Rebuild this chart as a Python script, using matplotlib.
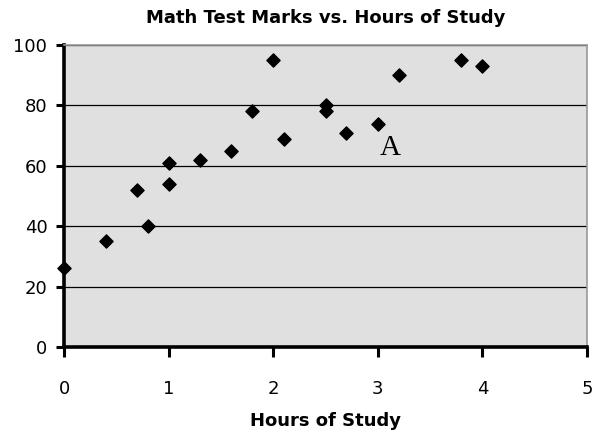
import matplotlib
matplotlib.use("Agg")
import matplotlib.pyplot as plt

hours = [0, 0.4, 0.7, 0.8, 1.0, 1.0, 1.3, 1.6, 1.8, 2.0, 2.1, 2.5, 2.5, 2.7, 3.0, 3.2, 3.8, 4.0]
marks = [26, 35, 52, 40, 54, 61, 62, 65, 78, 95, 69, 80, 78, 71, 74, 90, 95, 93]
x_ticks = [0, 1, 2, 3, 4, 5]
y_ticks = [0, 20, 40, 60, 80, 100]
title = "Math Test Marks vs. Hours of Study"
xlabel = "Hours of Study"
annot = "A"

fig = plt.figure(figsize=(5.95, 4.43), dpi=100)
ax = fig.add_axes([64/595, 1-347/443, (587-64)/595, (347-45)/443])
ax.set_facecolor("#e0e0e0")
ax.set_xlim(0, 5)
ax.set_ylim(0, 100)
ax.set_xticks(x_ticks)
ax.set_yticks(y_ticks)
ax.set_axisbelow(True)
ax.yaxis.grid(True, color="black", linewidth=0.9)
ax.scatter(hours, marks, marker="D", s=45, color="black", zorder=3, clip_on=False)
ax.text(3.12, 66, annot, fontsize=21, family="Liberation Serif", ha="center", va="center")

for s in ["left", "bottom"]:
    ax.spines[s].set_linewidth(2.6)
    ax.spines[s].set_color("black")
for s in ["top", "right"]:
    ax.spines[s].set_linewidth(1.2)
    ax.spines[s].set_color("#999999")

ax.tick_params(axis="y", length=6, width=2.2, labelsize=13, pad=6)
ax.tick_params(axis="x", length=7, width=2.2, labelsize=13, pad=17)
fig.text((64+587)/2/595, 1-18/443, title, ha="center", va="center", fontsize=13, fontweight="bold")
ax.set_xlabel(xlabel, fontsize=13, fontweight="bold", labelpad=10)
fig.savefig("out.png", dpi=100)
